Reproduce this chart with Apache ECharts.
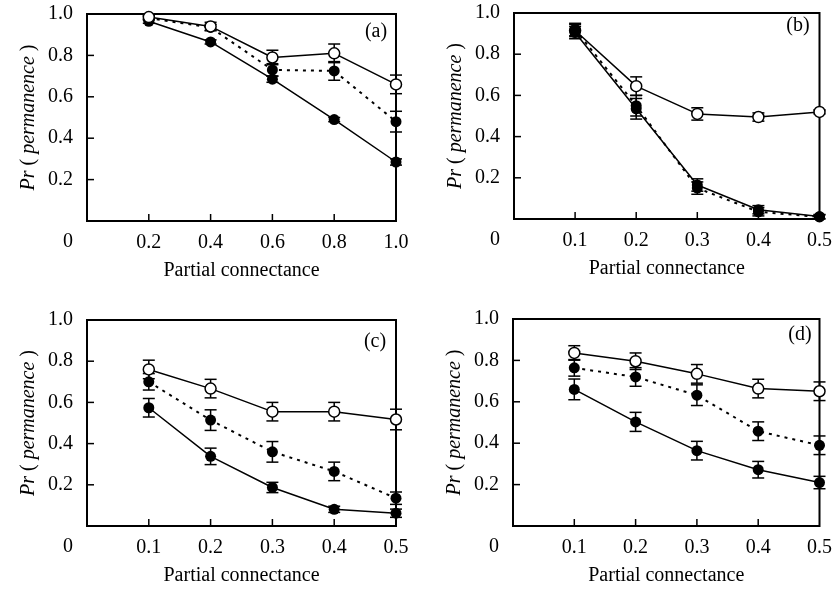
<!DOCTYPE html>
<html>
<head>
<meta charset="utf-8">
<script src="https://cdn.jsdelivr.net/npm/echarts@6/dist/echarts.min.js"></script>
<style>
  html, body { margin: 0; padding: 0; background: #fff; }
  #main { width: 835px; height: 590px; }
</style>
</head>
<body>
<div id="main"></div>
<script>
// x positions (partial connectance)
const xA = [0.2, 0.4, 0.6, 0.8, 1.0];
const xB = [0.1, 0.2, 0.3, 0.4, 0.5];
// tick values on the y axis
const yTicks = [0.2, 0.4, 0.6, 0.8];

// panel (a)
const openA = [0.985, 0.94, 0.79, 0.81, 0.66];
const openErrA = [0.01, 0.02, 0.035, 0.045, 0.045];
const dotA = [0.98, 0.935, 0.73, 0.725, 0.48];
const dotErrA = [0.01, 0.015, 0.03, 0.045, 0.05];
const solidA = [0.965, 0.865, 0.685, 0.49, 0.285];
const solidErrA = [0.01, 0.01, 0.015, 0.01, 0.015];

// panel (b)
const openB = [0.915, 0.645, 0.51, 0.495, 0.52];
const openErrB = [0.03, 0.045, 0.03, 0.02, 0.01];
const dotB = [0.92, 0.55, 0.15, 0.035, 0.01];
const dotErrB = [0.03, 0.05, 0.03, 0.02, 0.01];
const solidB = [0.905, 0.535, 0.165, 0.045, 0.012];
const solidErrB = [0.03, 0.05, 0.03, 0.02, 0.01];

// panel (c)
const openC = [0.76, 0.667, 0.555, 0.555, 0.517];
const openErrC = [0.045, 0.045, 0.045, 0.045, 0.05];
const dotC = [0.70, 0.514, 0.36, 0.265, 0.135];
const dotErrC = [0.04, 0.05, 0.05, 0.045, 0.03];
const solidC = [0.574, 0.338, 0.187, 0.081, 0.062];
const solidErrC = [0.045, 0.04, 0.025, 0.015, 0.02];

// panel (d)
const openD = [0.836, 0.796, 0.735, 0.664, 0.651];
const openErrD = [0.035, 0.04, 0.045, 0.045, 0.045];
const dotD = [0.764, 0.72, 0.632, 0.458, 0.39];
const dotErrD = [0.04, 0.045, 0.05, 0.045, 0.045];
const solidD = [0.66, 0.503, 0.364, 0.272, 0.21];
const solidErrD = [0.05, 0.046, 0.045, 0.04, 0.03];

const panelLabels = ['(a)', '(b)', '(c)', '(d)'];
const originLabel = '0';
const xTitle = 'Partial connectance';

const panels = [
  { x: xA, xMax: 1.0, xStep: 0.2, open: openA, openErr: openErrA, dot: dotA, dotErr: dotErrA, solid: solidA, solidErr: solidErrA },
  { x: xB, xMax: 0.5, xStep: 0.1, open: openB, openErr: openErrB, dot: dotB, dotErr: dotErrB, solid: solidB, solidErr: solidErrB },
  { x: xB, xMax: 0.5, xStep: 0.1, open: openC, openErr: openErrC, dot: dotC, dotErr: dotErrC, solid: solidC, solidErr: solidErrC },
  { x: xB, xMax: 0.5, xStep: 0.1, open: openD, openErr: openErrD, dot: dotD, dotErr: dotErrD, solid: solidD, solidErr: solidErrD }
];
const openOnTop = [true, false, true, true];

const font = 'Liberation Serif';
const grids = [
  { left: 87, top: 14, width: 309, height: 207 },
  { left: 514, top: 13, width: 308, height: 206 },
  { left: 87, top: 320, width: 309, height: 206 },
  { left: 513, top: 319, width: 308, height: 207 }
];
const labelOffset = [[-20, 18], [-24, 13], [-21, 22], [-21, 16]];

const zip = (xs, ys) => xs.map((v, i) => [v, ys[i]]);
const zip3 = (xs, ys, es) => xs.map((v, i) => [v, ys[i], es[i]]);

function errorBars (params, api) {
  const x = api.value(0), y = api.value(1), e = api.value(2);
  const top = api.coord([x, y + e]);
  const bot = api.coord([x, y - e]);
  const w = 6;
  const st = { stroke: '#000', lineWidth: 1.5 };
  return {
    type: 'group',
    children: [
      { type: 'line', shape: { x1: top[0], y1: top[1], x2: bot[0], y2: bot[1] }, style: st },
      { type: 'line', shape: { x1: top[0] - w, y1: top[1], x2: top[0] + w, y2: top[1] }, style: st },
      { type: 'line', shape: { x1: bot[0] - w, y1: bot[1], x2: bot[0] + w, y2: bot[1] }, style: st }
    ]
  };
}

// inward tick marks: data is [x, y, direction] (0 = bottom axis, 1 = left axis)
function tickMarks (params, api) {
  const p = api.coord([api.value(0), api.value(1)]);
  const len = 7;
  const vertical = api.value(2) === 0;
  return {
    type: 'line',
    shape: vertical
      ? { x1: p[0], y1: p[1], x2: p[0], y2: p[1] - len }
      : { x1: p[0], y1: p[1], x2: p[0] + len, y2: p[1] },
    style: { stroke: '#000', lineWidth: 1.5 }
  };
}

const xAxis = [], yAxis = [], series = [];
panels.forEach((p, i) => {
  xAxis.push({
    gridIndex: i, type: 'value', min: 0, max: p.xMax, interval: p.xStep,
    name: xTitle, nameLocation: 'middle', nameGap: 40,
    nameTextStyle: { fontFamily: font, fontSize: 20, color: '#000' },
    axisLine: { show: false },
    axisTick: { show: false },
    splitLine: { show: false },
    axisLabel: {
      fontFamily: font, fontSize: 20, color: '#000', margin: 12,
      formatter: v => (v === 0 ? '' : v.toFixed(1))
    }
  });
  yAxis.push({
    gridIndex: i, type: 'value', min: 0, max: 1, interval: 0.2,
    name: '{i|Pr} ( {i|permanence} )', nameLocation: 'middle', nameRotate: 90, nameGap: 48,
    nameTextStyle: {
      fontFamily: font, fontSize: 20, color: '#000',
      rich: { i: { fontFamily: font, fontSize: 20, fontStyle: 'italic', color: '#000' } }
    },
    axisLine: { show: false },
    axisTick: { show: false },
    splitLine: { show: false },
    axisLabel: {
      fontFamily: font, fontSize: 20, color: '#000', margin: 14,
      formatter: v => (v === 0 ? '' : v.toFixed(1))
    }
  });

  const base = { xAxisIndex: i, yAxisIndex: i, animation: false, silent: true };
  const ticks = p.x.slice(0, -1).map(v => [v, 0, 0]).concat(yTicks.map(v => [0, v, 1]));
  series.push(Object.assign({}, base, {
    type: 'custom', renderItem: tickMarks, data: ticks, encode: { x: 0, y: 1 }, z: 1, clip: false
  }));
  [p.openErr, p.dotErr, p.solidErr].forEach((err, k) => {
    const ys = [p.open, p.dot, p.solid][k];
    series.push(Object.assign({}, base, {
      type: 'custom', renderItem: errorBars, data: zip3(p.x, ys, err),
      encode: { x: 0, y: 1 }, z: 2, clip: false
    }));
  });
  series.push(Object.assign({}, base, {
    type: 'line', data: zip(p.x, p.open), symbol: 'circle', symbolSize: 11,
    itemStyle: { color: '#fff', borderColor: '#000', borderWidth: 1.5 },
    lineStyle: { color: '#000', width: 1.5 }, z: openOnTop[i] ? 6 : 3
  }));
  series.push(Object.assign({}, base, {
    type: 'line', data: zip(p.x, p.dot), symbol: 'circle', symbolSize: 11,
    itemStyle: { color: '#000' },
    lineStyle: { color: '#000', width: 2, type: [3, 5] }, z: 4
  }));
  series.push(Object.assign({}, base, {
    type: 'line', data: zip(p.x, p.solid), symbol: 'circle', symbolSize: 11,
    itemStyle: { color: '#000' },
    lineStyle: { color: '#000', width: 1.5 }, z: 5
  }));
});

const chart = echarts.init(document.getElementById('main'));
chart.setOption({
  backgroundColor: '#fff',
  animation: false,
  grid: grids.map(g => Object.assign({ show: true, borderColor: '#000', borderWidth: 2, backgroundColor: 'transparent' }, g)),
  xAxis: xAxis,
  yAxis: yAxis,
  series: series
});

// origin "0" and panel letters
const graphic = [];
grids.forEach((g, i) => {
  const o = chart.convertToPixel({ gridIndex: i }, [0, 0]);
  graphic.push({
    type: 'text', x: o[0] - 19, y: o[1] + 21,
    style: { text: originLabel, font: '20px "' + font + '"', fill: '#000', align: 'center', verticalAlign: 'middle' }
  });
  graphic.push({
    type: 'text', x: g.left + g.width + labelOffset[i][0], y: g.top + labelOffset[i][1],
    style: { text: panelLabels[i], font: '20px "' + font + '"', fill: '#000', align: 'center', verticalAlign: 'middle' }
  });
});
chart.setOption({ graphic: graphic });
</script>
</body>
</html>
